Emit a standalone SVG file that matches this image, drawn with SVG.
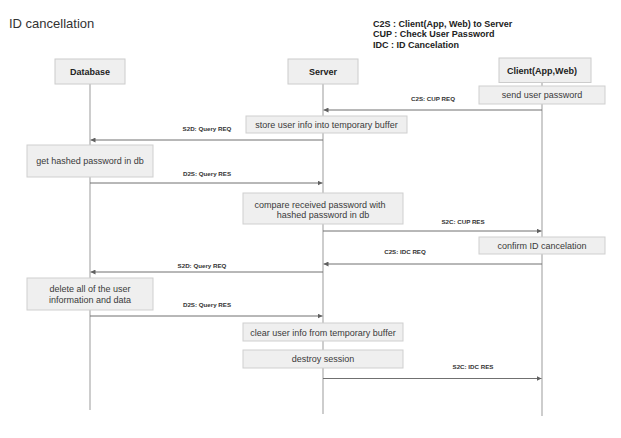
<svg xmlns="http://www.w3.org/2000/svg" width="621" height="438" viewBox="0 0 621 438">
<style>
  text { font-family: "Liberation Sans", Arial, sans-serif; fill: #333; }
  .title { font-size: 13px; fill: #333; }
  .legend { font-size: 9px; font-weight: bold; fill: #222; }
  .actor rect { fill: #efefef; stroke: #cccccc; stroke-width: 1; }
  .actor text { font-size: 9px; font-weight: bold; text-anchor: middle; fill: #222; }
  .life { stroke: #bdbdbd; stroke-width: 1.5; fill: none; }
  .act rect { fill: #efefef; stroke: #cfcfcf; stroke-width: 1; }
  .act text { font-size: 9px; text-anchor: middle; fill: #3a3a3a; }
  .msg line { stroke: #707070; stroke-width: 1; marker-end: url(#ah); }
  .msg text { font-size: 6.2px; font-weight: bold; text-anchor: middle; fill: #333; }
</style>
<defs>
  <marker id="ah" viewBox="0 0 6 6" refX="6" refY="3" markerWidth="5" markerHeight="5" markerUnits="userSpaceOnUse" orient="auto">
    <path d="M0,0 L6,3 L0,6 z" fill="#606060"/>
  </marker>
</defs>
<rect width="621" height="438" fill="#ffffff"/>
<text class="title" x="9" y="28">ID cancellation</text>
<g id="legend">
  <text class="legend" x="373" y="26.5">C2S : Client(App, Web) to Server</text>
  <text class="legend" x="373" y="37">CUP : Check User Password</text>
  <text class="legend" x="373" y="47.5">IDC : ID Cancelation</text>
</g>
<g id="lifelines">
  <line class="life" x1="90" y1="84" x2="90" y2="410"/>
  <line class="life" x1="323" y1="84" x2="323" y2="414"/>
  <line class="life" x1="542" y1="82" x2="542" y2="416"/>
</g>
<g id="database" class="actor">
  <rect x="55" y="59" width="70" height="25"/>
  <text x="90" y="75">Database</text>
</g>
<g id="server" class="actor">
  <rect x="288" y="59" width="70" height="25"/>
  <text x="323" y="75">Server</text>
</g>
<g id="client" class="actor">
  <rect x="499" y="58" width="92" height="24.5"/>
  <text x="542" y="73.5">Client(App,Web)</text>
</g>
<g id="send-user-password" class="act">
  <rect x="479" y="86" width="126" height="18"/>
  <text x="542" y="98">send user password</text>
</g>
<g id="store-user-info" class="act">
  <rect x="246" y="116" width="161" height="17"/>
  <text x="326.5" y="127.5">store user info into temporary buffer</text>
</g>
<g id="get-hashed-password" class="act">
  <rect x="27" y="145" width="126" height="32"/>
  <text x="90" y="164">get hashed password in db</text>
</g>
<g id="compare-password" class="act">
  <rect x="243" y="193" width="160" height="31"/>
  <text x="320" y="207.5">compare received password with</text>
  <text x="323" y="217.5">hashed password in db</text>
</g>
<g id="confirm-cancelation" class="act">
  <rect x="479" y="237" width="126" height="17"/>
  <text x="542" y="248.5">confirm ID cancelation</text>
</g>
<g id="delete-user-data" class="act">
  <rect x="27" y="278" width="126" height="32"/>
  <text x="90" y="292">delete all of the user</text>
  <text x="90" y="302.5">information and data</text>
</g>
<g id="clear-user-info" class="act">
  <rect x="243" y="323" width="160" height="18"/>
  <text x="323" y="335.5">clear user info from temporary buffer</text>
</g>
<g id="destroy-session" class="act">
  <rect x="243" y="350" width="160" height="18"/>
  <text x="323" y="362">destroy session</text>
</g>
<g id="connectors" class="msg">
  <line x1="542" y1="110" x2="323.5" y2="110"/>
  <text x="433" y="101.2">C2S: CUP REQ</text>
  <line x1="323" y1="140" x2="90.5" y2="140"/>
  <text x="207" y="131.2">S2D: Query REQ</text>
  <line x1="90" y1="183" x2="322.5" y2="183"/>
  <text x="207" y="176.2">D2S: Query RES</text>
  <line x1="323" y1="231" x2="541.5" y2="231"/>
  <text x="463" y="224.2">S2C: CUP RES</text>
  <line x1="542" y1="264" x2="323.5" y2="264"/>
  <text x="405" y="254.2">C2S: IDC REQ</text>
  <line x1="323" y1="272" x2="90.5" y2="272"/>
  <text x="202" y="268.2">S2D: Query REQ</text>
  <line x1="90" y1="316" x2="322.5" y2="316"/>
  <text x="207" y="307.2">D2S: Query RES</text>
  <line x1="323" y1="378.5" x2="541.5" y2="378.5"/>
  <text x="473" y="369.2">S2C: IDC RES</text>
</g>
</svg>
